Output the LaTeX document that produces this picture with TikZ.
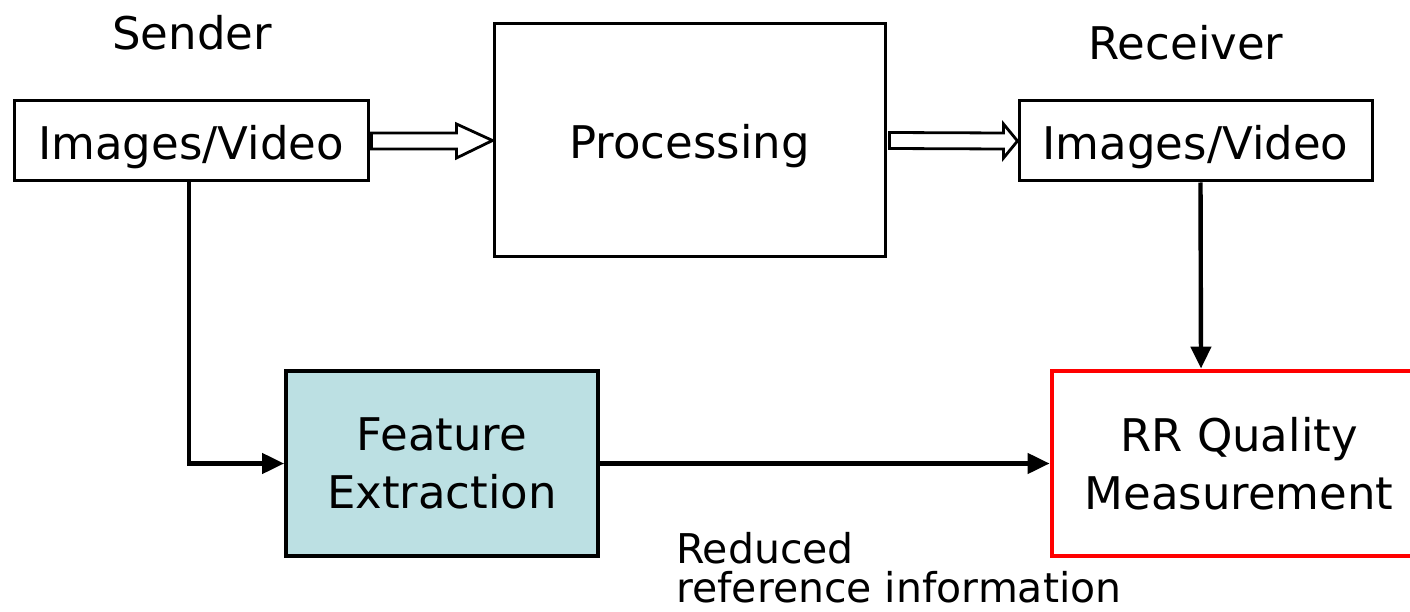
\documentclass[tikz,border=0pt]{standalone}
\usepackage{fontspec}
\setmainfont{DejaVu Sans}
\usetikzlibrary{arrows.meta,calc}
\definecolor{featfill}{HTML}{BCE0E3}
\definecolor{rrred}{HTML}{FF0000}
% text set a little below the box centre, keeping its nominal size
\newcommand{\lowered}[1]{\raisebox{-6pt}[\height][\depth]{#1}}
\tikzset{
  block/.style={draw=black, line width=3pt, fill=white, align=center,
    inner sep=0pt, font=\fontsize{45}{58}\selectfont},
  hollow/.style={draw=black, line width=2.8pt, fill=white, line join=miter},
  link/.style={draw=black, line width=4.4pt,
    -{Triangle[length=22pt,width=20pt]}},
  caption/.style={font=\fontsize{45}{50}\selectfont, inner sep=0pt},
}
\begin{document}
\begin{tikzpicture}[x=1pt,y=-1pt]
\useasboundingbox (0,0) rectangle (1410,612);
\clip (0,0) rectangle (1410,612);

% captions above the end blocks
\node[caption] (snd) at (192,33) {Sender};
\node[caption] (rcv) at (1186,43) {Receiver};

% blocks
\node[block, minimum width=354pt, minimum height=80pt] (src) at (191,141) {\lowered{Images/Video}};
\node[block, minimum width=391pt, minimum height=233pt] (proc) at (689.5,140.5) {\lowered{Processing}};
\node[block, minimum width=353pt, minimum height=80pt] (dst) at (1195.5,141) {\lowered{Images/Video}};
\node[block, line width=3.8pt, fill=featfill, minimum width=312pt, minimum height=185pt] (feat) at (442,463.5) {Feature\\Extraction};
\node[block, draw=rrred, line width=4.8pt, minimum width=374pt, minimum height=185pt] (rr) at (1239,463.5) {RR Quality\\Measurement};

% hollow block arrows along the transmission path
\draw[hollow] ($(src.east)+(2,-8)$) -- ($(src.east)+(87,-8)$) -- ($(src.east)+(87,-17)$)
  -- (proc.west) -- ($(src.east)+(87,17)$) -- ($(src.east)+(87,8)$)
  -- ($(src.east)+(2,8)$) -- cycle;
\draw[hollow] ($(proc.east)+(3,-8)$) -- ($(dst.west)+(-14,-8)$) -- ($(dst.west)+(-14,-17)$)
  -- (dst.west) -- ($(dst.west)+(-14,17)$) -- ($(dst.west)+(-14,8)$)
  -- ($(proc.east)+(3,8)$) -- cycle;

% side path for the reduced reference
\coordinate (bend) at ($(src.south)+(-2,0)$);
\draw[link] (bend) |- (feat.west);
\draw[link] (feat.east) -- (rr.west);
\draw[link] ($(dst.south)+(5,0)$) -- ($(rr.north)+(-38,0)$);

\node[caption, font=\fontsize{41}{39}\selectfont, align=left, anchor=north west] (rri) at (676,532)
  {Reduced\\reference information};
\end{tikzpicture}
\end{document}
